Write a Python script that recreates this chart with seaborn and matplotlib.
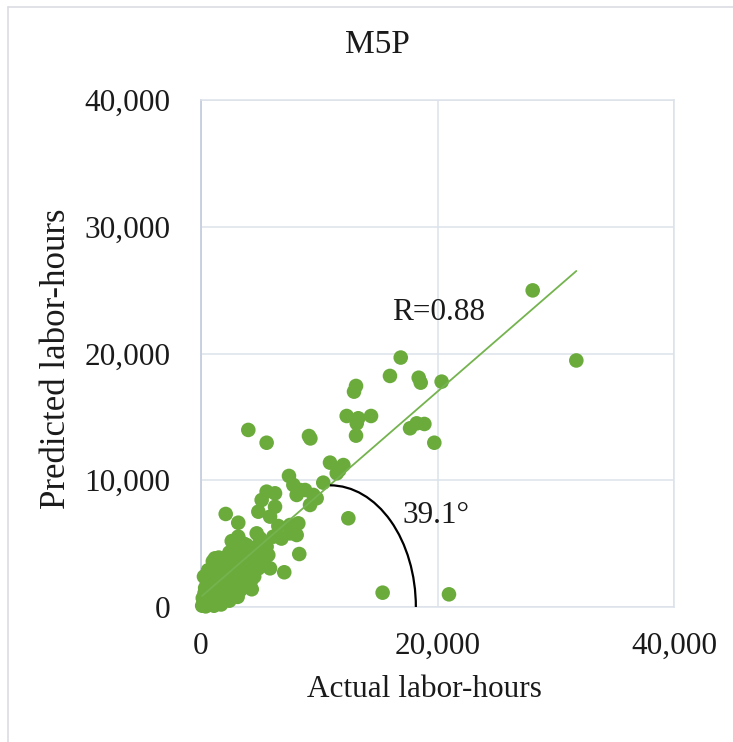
import matplotlib
matplotlib.use("Agg")
import matplotlib.pyplot as plt
import matplotlib.ticker as mticker
from matplotlib.patches import Arc
from matplotlib.lines import Line2D
import numpy as np
import pandas as pd
import seaborn as sns

# ---- data ----
actual = [
    28050, 31740, 16890, 15980, 18410, 18580, 20350, 13110, 12940, 12320,
    13300, 13170, 14380, 13110, 4000, 5550, 9130, 9250, 17680, 18240,
    18890, 19730, 15360, 20970, 12460,
    10910, 12040, 11480, 11700, 10340, 7440, 7810, 8370, 8800, 8090,
    9500, 9780, 9220, 5550, 6260, 5130, 6260, 4850, 5840, 2090,
    3150, 6540, 6120, 7530, 8230, 8090, 7530, 4710, 4990, 3150,
    2880, 3860, 5550, 4140, 5130, 5690, 8310, 1180, 1890, 3440,
    4420, 4850, 5840, 7040, 4290,
    2600, 3600, 2400, 3300, 4600, 2700, 3900, 5300, 6800,
    200, 400, 600, 800, 1000, 1200, 1500, 1800, 2000, 2300,
    2600, 2900, 3200, 3500, 300, 700, 1100, 1400, 1700, 2100,
    2500, 500, 900, 1300, 100, 150, 350, 600, 850, 1100,
    1400, 1700, 2000, 2200, 2800, 3000, 3300, 3700, 4000, 400,
    900, 1600, 1900, 2400, 2700, 3100, 250, 600, 1200, 1900,
    3600, 4200, 4500, 1000, 1500, 2300, 2800,
]
predicted = [
    24980, 19450, 19680, 18230, 18090, 17700, 17780, 17440, 16990, 15070,
    14890, 14490, 15070, 13520, 13970, 12960, 13490, 13300, 14100, 14490,
    14440, 12960, 1130, 1000, 7000,
    11390, 11200, 10550, 10800, 9810, 10340, 9630, 9230, 9230, 8840,
    8840, 8580, 8050, 9100, 8970, 8440, 7910, 7520, 7130, 7340,
    6650, 6390, 5550, 6470, 6600, 5680, 5810, 5810, 5420, 5550,
    4760, 4890, 4760, 4240, 4240, 4100, 4180, 3840, 3840, 3710,
    3450, 3050, 3050, 2740, 1400,
    5200, 5000, 4300, 4300, 4700, 3400, 3300, 3700, 5400,
    300, 600, 200, 900, 500, 1200, 800, 1500, 1000, 1800,
    1300, 2200, 1700, 2500, 1100, 1500, 1900, 2300, 2600, 2900,
    3100, 2000, 2500, 2900, 100, 700, 1500, 1000, 300, 100,
    400, 200, 600, 2300, 2700, 3200, 1300, 2000, 2600, 50,
    1300, 1100, 2000, 500, 900, 800, 2400, 2900, 3300, 3300,
    3300, 2000, 2400, 3600, 3900, 3600, 3900,
]

fit_slope = 0.81
fit_intercept = 800
r_text = "R=0.88"
angle_text = "39.1°"
arc_center_x = 10900
arc_half_width = 7270
arc_half_height = 9600

x_ticks = [0, 20000, 40000]
y_ticks = [0, 10000, 20000, 30000, 40000]

df = pd.DataFrame({"Actual": actual, "Predicted": predicted})

# ---- style ----
sns.set_theme(style="white")
plt.rcParams["font.family"] = ["Liberation Serif", "DejaVu Serif"]

green = "#6AAB3C"
grid_c = "#DCE1EB"
txt_c = "#1a1a1a"
fs = 22.5

fig = plt.figure(figsize=(7.33, 7.42), dpi=100)
ax = fig.add_axes([201 / 733, 1 - 607 / 742, 473 / 733, 507 / 742])

sns.scatterplot(data=df, x="Actual", y="Predicted", ax=ax, color=green,
                s=110, edgecolor="none", linewidth=0, clip_on=False, zorder=3)

# trend line
xs = np.array([min(actual), max(actual)])
ax.plot(xs, fit_slope * xs + fit_intercept, color="#74B34E", lw=1.3, zorder=4)

# angle arc
ax.add_patch(Arc((arc_center_x, 0), 2 * arc_half_width, 2 * arc_half_height,
                 theta1=0, theta2=90, color="black", lw=1.6, zorder=5))

ax.text(16150, 23200, r_text, fontsize=fs, color=txt_c, va="center", ha="left")
ax.text(17000, 7180, angle_text, fontsize=fs, color=txt_c, va="center", ha="left")

ax.set_xlim(0, 40000)
ax.set_ylim(0, 40000)
ax.set_xticks(x_ticks)
ax.set_yticks(y_ticks)
fmt = mticker.FuncFormatter(lambda v, p: f"{int(v):,}")
ax.xaxis.set_major_formatter(fmt)
ax.yaxis.set_major_formatter(fmt)
ax.tick_params(axis="both", length=0, labelsize=fs, labelcolor=txt_c)
ax.tick_params(axis="y", pad=22)
ax.tick_params(axis="x", pad=18)

ax.grid(True, color=grid_c, lw=1.1)
ax.set_axisbelow(True)
for side in ["top", "right", "bottom"]:
    ax.spines[side].set_color(grid_c)
    ax.spines[side].set_linewidth(1.1)
ax.spines["left"].set_color("#C6CEDE")
ax.spines["left"].set_linewidth(1.3)

ax.set_xlabel("Actual labor-hours", fontsize=fs, color=txt_c)
ax.set_ylabel("Predicted labor-hours", fontsize=25, color=txt_c)
ax.xaxis.set_label_coords((424 - 201) / 473, (607 - 675) / 507)
ax.yaxis.set_label_coords((73 - 201) / 473, (607 - 359) / 507)

fig.text(377 / 733, 1 - 45 / 742, "M5P", fontsize=24, color=txt_c,
         ha="center", va="center")

# outer chart border (left and top visible)
fig.add_artist(Line2D([8 / 733, 8 / 733], [0, 1 - 7 / 742], color="#DADDE3", lw=1.2,
                      transform=fig.transFigure))
fig.add_artist(Line2D([8 / 733, 1], [1 - 7 / 742, 1 - 7 / 742], color="#DADDE3", lw=1.2,
                      transform=fig.transFigure))

fig.savefig("out.png", dpi=100)
